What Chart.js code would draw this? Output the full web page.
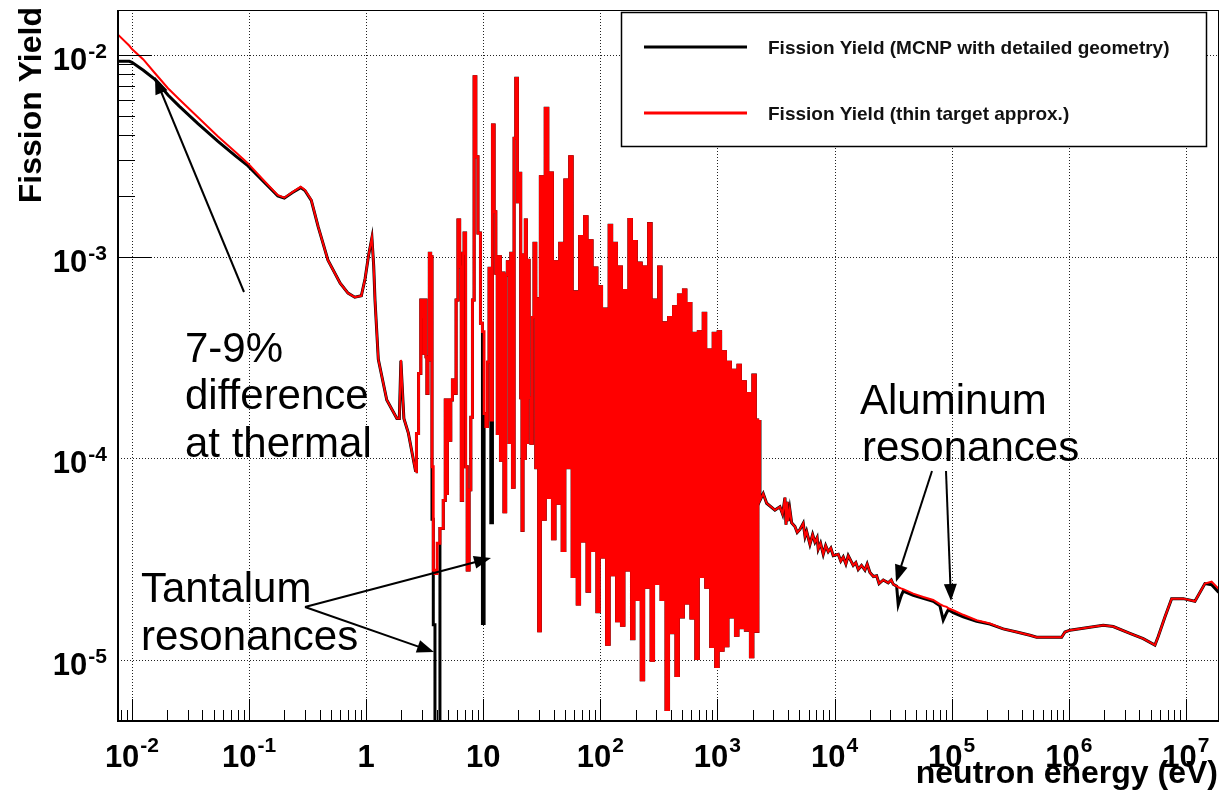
<!DOCTYPE html>
<html lang="en">
<head>
<meta charset="UTF-8" />
<title>Fission Yield vs neutron energy</title>
<script src="https://cdn.jsdelivr.net/npm/chart.js"></script>
<style>
  html, body { margin: 0; padding: 0; background: #fff; }
  #wrap { position: relative; width: 1223px; height: 795px; }
</style>
</head>
<body>
<div id="wrap"><canvas id="chart"></canvas></div>

<script>
// ---------- data (energy in eV, yield per bin) ----------

// smooth part: thermal peak up to the first resonances
const energyLow = [0.0076, 0.0095, 0.01, 0.0125, 0.0156, 0.0203, 0.0253, 0.0366, 0.0543, 0.0765,
  0.098, 0.14, 0.176, 0.2, 0.235, 0.276, 0.30, 0.34, 0.389, 0.472,
  0.60, 0.70, 0.80, 0.91, 0.98, 1.05, 1.12, 1.16, 1.19, 1.27,
  1.50, 1.83, 1.92, 1.98, 2.10, 2.29, 2.52, 2.65];
const thinLow = [1.26e-2, 1.11e-2, 1.07e-2, 9.5e-3, 8.16e-3, 6.84e-3, 6.03e-3, 4.91e-3, 3.94e-3, 3.30e-3,
  2.90e-3, 2.32e-3, 2.02e-3, 1.96e-3, 2.09e-3, 2.22e-3, 2.14e-3, 1.91e-3, 1.41e-3, 9.6e-4,
  7.4e-4, 6.6e-4, 6.3e-4, 6.4e-4, 7.8e-4, 1.02e-3, 1.25e-3, 9.0e-4, 6.1e-4, 3.1e-4,
  1.95e-4, 1.58e-4, 1.58e-4, 3.08e-4, 1.58e-4, 1.34e-4, 1.0e-4, 8.6e-5];
const mcnpLow = [9.3e-3, 9.3e-3, 9.2e-3, 8.4e-3, 7.6e-3, 6.33e-3, 5.58e-3, 4.57e-3, 3.73e-3, 3.16e-3,
  2.82e-3, 2.29e-3, 2.0e-3, 1.95e-3, 2.08e-3, 2.2e-3, 2.13e-3, 1.9e-3, 1.41e-3, 9.6e-4,
  7.4e-4, 6.6e-4, 6.3e-4, 6.4e-4, 7.8e-4, 1.02e-3, 1.24e-3, 9.0e-4, 6.1e-4, 3.1e-4,
  1.95e-4, 1.58e-4, 1.58e-4, 3.05e-4, 1.58e-4, 1.34e-4, 1.0e-4, 8.6e-5];

// resolved resonance region (histogram bins)
const energyRes = [2.65, 2.73, 2.88, 2.98, 3.07, 3.13, 3.20, 3.29, 3.32, 3.42,
  3.51, 3.60, 3.70, 3.79, 3.95, 4.13, 4.41, 4.71, 4.77, 4.87,
  5.02, 5.19, 5.37, 5.54, 5.73, 6.00, 6.17, 6.41, 6.58, 6.75,
  6.98, 7.16, 7.44, 7.70, 7.96, 8.22, 8.50, 8.78, 9.25, 9.69,
  10.0, 10.34, 10.69, 11.03, 11.41, 11.80, 12.17, 12.59, 13.01, 13.35,
  13.70, 14.36, 14.73, 15.32, 15.78, 16.35, 16.90, 17.48, 18.04, 18.65,
  19.28, 19.90, 20.58, 21.2, 21.7, 22.0, 22.6, 23.15, 23.6, 24.2,
  25.1, 25.9, 26.7, 27.6, 28.6, 29.5,
  30, 31.5, 33, 34.7, 36.5, 38, 40, 42, 44, 46,
  48.5, 51, 53.5, 56, 59, 62, 65, 68, 71.5, 75,
  79, 83, 87, 91, 96, 100, 105, 110, 116, 122,
  128, 134, 141, 148, 155, 163, 171, 180, 189, 198,
  208, 218, 229, 240, 252, 265, 278, 292, 307, 322,
  338, 355, 373, 392, 411, 432, 453, 476, 500, 525,
  551, 579, 608, 638, 670, 703, 738, 775, 814, 855,
  898, 943, 990, 1040, 1090, 1145, 1200, 1260, 1325, 1390,
  1460, 1535, 1610, 1690, 1775, 1865, 1960, 2055, 2160, 2270];
const thinRes = [8.6e-5, 1.33e-4, 2.64e-4, 6.1e-4, 5.04e-4, 3.32e-4, 6.1e-4, 3.19e-4, 2.1e-4, 3.08e-4,
  1.04e-3, 1.0e-3, 9.1e-5, 2.8e-5, 2.69e-5, 3.8e-5, 4.5e-5, 6.2e-5, 1.95e-4, 6.7e-5,
  1.95e-4, 1.23e-4, 1.95e-4, 2.45e-4, 2.1e-4, 6.1e-4, 1.52e-3, 8.9e-4, 6.2e-5, 1.04e-3,
  1.31e-3, 9.1e-5, 2.8e-5, 7.0e-5, 1.6e-4, 6.1e-4, 7.8e-3, 3.13e-3, 1.31e-3, 4.68e-4,
  4.25e-4, 1.67e-4, 1.44e-4, 3.0e-4, 8.76e-4, 1.55e-4, 4.5e-3, 1.67e-3, 8.27e-4, 1.33e-4,
  1.0e-3, 9.8e-5, 8.3e-4, 5.44e-5, 8.1e-4, 9.45e-4, 1.2e-4, 1.04e-3, 7.2e-5, 3.86e-3,
  7.66e-3, 1.87e-3, 2.59e-3, 2.0e-4, 4.4e-5, 1.02e-3, 1.0e-4, 1.52e-3, 1.2e-4, 9.6e-4,
  2.0e-4, 1.19e-4, 5.0e-4, 1.165e-3, 9.0e-5, 6.2e-4,
  1.4e-5, 2.49e-3, 5.0e-5, 5.44e-3, 6.4e-5, 2.6e-3, 4.0e-5, 9.45e-4, 6.0e-5, 1.165e-3,
  3.5e-5, 2.4e-3, 9.0e-5, 3.13e-3, 2.6e-5, 6.7e-4, 1.9e-5, 1.26e-3, 3.9e-5, 1.58e-3,
  2.2e-5, 1.2e-3, 3.5e-5, 8.8e-4, 1.74e-5, 7.1e-4, 3.25e-5, 5.5e-4, 1.2e-5, 1.43e-3,
  2.65e-5, 1.165e-3, 1.57e-5, 8.9e-4, 1.49e-5, 6.8e-4, 2.8e-5, 1.53e-3, 1.28e-5, 1.19e-3,
  2.0e-5, 9.3e-4, 8.0e-6, 8.9e-4, 2.3e-5, 1.46e-3, 1.0e-5, 6.1e-4, 2.4e-5, 8.9e-4,
  2.0e-5, 4.7e-4, 5.7e-6, 5.0e-4, 1.37e-5, 5.65e-4, 8.4e-6, 6.46e-4, 1.64e-5, 6.84e-4,
  1.92e-5, 5.87e-4, 1.62e-5, 4.17e-4, 1.02e-5, 4.25e-4, 2.6e-5, 5.24e-4, 2.3e-5, 3.45e-4,
  1.17e-5, 4.17e-4, 9.3e-6, 4.25e-4, 1.12e-5, 3.38e-4, 1.18e-5, 3.0e-4, 1.64e-5, 2.74e-4,
  1.33e-5, 2.9e-4, 1.45e-5, 2.4e-4, 1.41e-5, 2.1e-4, 1.04e-5, 2.59e-4, 1.39e-5, 1.55e-4];
// MCNP curve sits under the thin-target one here, except at the tantalum dips
const mcnpResDips = [[3.70, 5.0e-5], [3.79, 1.5e-5], [3.95, 1e-6], [4.13, 1e-6],
  [10.0, 1.52e-5], [11.80, 4.8e-5]];

// unresolved / fast region
const energyHigh = [2270, 2307, 2461, 2632, 3098, 3418, 3600, 3771, 3850, 3950,
  4023, 4150, 4302, 4590, 4800, 5064, 5403, 5600, 5777, 6165,
  6500, 6802, 7100, 7258, 7600, 8008, 8400, 8835, 9300, 9748,
  10760, 11300, 11870, 12500, 13090, 14440, 15200, 15940, 17000, 18180,
  19000, 20060, 21500, 22880, 24000, 26060, 28740, 30500, 31720, 33910,
  34990, 37000, 38610, 47000, 57210, 69650, 79450, 84770, 90640, 93540,
  103200, 125600, 163500, 212400, 275800, 359100, 466500, 531800, 869700, 928100,
  1024000, 1330000, 1970000, 2399000, 3331000, 4326000, 5447000, 5811000, 6630000, 7563000,
  9502000, 11960000, 14560000, 16610000, 18910000, 19550000];
const thinHigh = [1.55e-4, 6.2e-5, 6.7e-5, 6.0e-5, 5.55e-5, 5.76e-5, 5.3e-5, 6.4e-5, 4.7e-5, 6.1e-5,
  4.9e-5, 5.6e-5, 4.8e-5, 4.6e-5, 4.3e-5, 4.45e-5, 4.77e-5, 4.1e-5, 4.35e-5, 3.75e-5,
  4.2e-5, 3.85e-5, 4.05e-5, 3.55e-5, 3.8e-5, 3.35e-5, 3.7e-5, 3.45e-5, 3.6e-5, 3.3e-5,
  3.35e-5, 3.1e-5, 3.25e-5, 3.0e-5, 3.3e-5, 2.95e-5, 3.05e-5, 2.82e-5, 2.95e-5, 2.8e-5,
  3.0e-5, 2.72e-5, 2.6e-5, 2.62e-5, 2.4e-5, 2.5e-5, 2.42e-5, 2.5e-5, 2.38e-5, 2.33e-5,
  2.3e-5, 2.27e-5, 2.25e-5, 2.14e-5, 2.06e-5, 1.99e-5, 1.9e-5, 1.86e-5, 1.84e-5, 1.81e-5,
  1.77e-5, 1.68e-5, 1.58e-5, 1.52e-5, 1.43e-5, 1.38e-5, 1.33e-5, 1.3e-5, 1.3e-5, 1.38e-5,
  1.41e-5, 1.44e-5, 1.49e-5, 1.47e-5, 1.36e-5, 1.28e-5, 1.19e-5, 1.31e-5, 1.64e-5, 2.02e-5,
  2.02e-5, 1.96e-5, 2.4e-5, 2.45e-5, 2.27e-5, 2.25e-5];
// aluminium dips and the small offset at the top end
const mcnpHighDips = [[34990, 1.88e-5], [37000, 2.08e-5], [38610, 2.2e-5], [47000, 2.1e-5],
  [57210, 2.03e-5], [69650, 1.96e-5], [79450, 1.86e-5], [84770, 1.58e-5], [90640, 1.72e-5],
  [93540, 1.78e-5], [103200, 1.72e-5], [125600, 1.64e-5], [163500, 1.56e-5], [212400, 1.51e-5],
  [16610000, 2.37e-5], [18910000, 2.18e-5], [19550000, 2.15e-5]];

// axes
const xRange = [7.6e-3, 1.92e7];
const yRange = [5.0e-6, 1.67e-2];
const xTickValues = [1e-2, 1e-1, 1, 10, 1e2, 1e3, 1e4, 1e5, 1e6, 1e7];
const xTickLabels = [['10', '-2'], ['10', '-1'], ['1', ''], ['10', ''], ['10', '2'],
  ['10', '3'], ['10', '4'], ['10', '5'], ['10', '6'], ['10', '7']];
const yTickValues = [1e-5, 1e-4, 1e-3, 1e-2];
const yTickLabels = [['10', '-5'], ['10', '-4'], ['10', '-3'], ['10', '-2']];
const seriesNames = ['Fission Yield (MCNP with detailed geometry)', 'Fission Yield (thin target approx.)'];

// ---------- build ----------
function withDips(xs, ys, dips) {
  const m = new Map(dips);
  return ys.map((v, i) => (m.has(xs[i]) ? m.get(xs[i]) : v));
}
function pts(xs, ys) { return xs.map((x, i) => ({ x: x, y: ys[i] })); }

const mcnpRes = withDips(energyRes, thinRes, mcnpResDips);
const mcnpHigh = withDips(energyHigh, thinHigh, mcnpHighDips);

const RED = '#ff0000';
const BLACK = '#000000';
const FONT = '"Liberation Sans", Arial, Helvetica, sans-serif';

function line(ctx, x0, y0, x1, y1) {
  ctx.beginPath(); ctx.moveTo(x0, y0); ctx.lineTo(x1, y1); ctx.stroke();
}

function arrow(ctx, x0, y0, x1, y1) {
  const head = 17, half = 6.5;
  const a = Math.atan2(y1 - y0, x1 - x0);
  const c = Math.cos(a), s = Math.sin(a);
  line(ctx, x0, y0, x1 - c * head * 0.7, y1 - s * head * 0.7);
  ctx.beginPath();
  ctx.moveTo(x1, y1);
  ctx.lineTo(x1 - c * head + s * half, y1 - s * head - c * half);
  ctx.lineTo(x1 - c * head - s * half, y1 - s * head + c * half);
  ctx.closePath();
  ctx.fill();
}

// ROOT style frame: dotted decade grid, inward ticks, bold 10^n labels
const rootFrame = {
  id: 'rootFrame',
  beforeDatasetsDraw(chart) {
    const { ctx, chartArea: a, scales: { x, y } } = chart;
    ctx.save();
    ctx.strokeStyle = '#222';
    ctx.lineWidth = 1;
    ctx.setLineDash([1, 2]);
    xTickValues.forEach(v => {
      const px = Math.round(x.getPixelForValue(v)) + 0.5;
      line(ctx, px, a.top, px, a.bottom);
    });
    yTickValues.forEach(v => {
      const py = Math.round(y.getPixelForValue(v)) + 0.5;
      line(ctx, a.left, py, a.right, py);
    });
    ctx.restore();
  },
  afterDatasetsDraw(chart) {
    const { ctx, chartArea: a, scales: { x, y } } = chart;
    ctx.save();
    ctx.strokeStyle = BLACK;
    ctx.lineWidth = 1;
    for (let k = -3; k <= 7; k++) {
      for (let m = 1; m <= 9; m++) {
        const v = m * Math.pow(10, k);
        if (v >= xRange[0] && v <= xRange[1]) {
          const px = Math.round(x.getPixelForValue(v)) + 0.5;
          line(ctx, px, a.bottom, px, a.bottom - (m === 1 ? 22 : 11));
        }
        if (v >= yRange[0] && v <= yRange[1]) {
          const py = Math.round(y.getPixelForValue(v)) + 0.5;
          line(ctx, a.left, py, a.left + (m === 1 ? 34 : 17), py);
        }
      }
    }
    ctx.strokeRect(a.left + 0.5, a.top + 0.5, a.right - a.left - 1, a.bottom - a.top - 1);
    ctx.lineWidth = 2;
    line(ctx, a.left, a.top, a.left, a.bottom + 1);
    line(ctx, a.left - 1, a.bottom, a.right, a.bottom);
    ctx.restore();
  },
  afterDraw(chart) {
    const { ctx, scales: { x, y } } = chart;
    const baseFont = 'bold 31px ' + FONT;
    const expFont = 'bold 21px ' + FONT;
    ctx.save();
    ctx.fillStyle = BLACK;
    ctx.textBaseline = 'alphabetic';

    // x tick labels
    xTickValues.forEach((v, i) => {
      const [b, e] = xTickLabels[i];
      ctx.font = baseFont; const wb = ctx.measureText(b).width;
      ctx.font = expFont; const we = e ? ctx.measureText(e).width + 1 : 0;
      const x0 = x.getPixelForValue(v) - (wb + we) / 2;
      ctx.textAlign = 'left';
      ctx.font = baseFont; ctx.fillText(b, x0, 767);
      if (e) { ctx.font = expFont; ctx.fillText(e, x0 + wb + 1, 752); }
    });

    // y tick labels
    yTickValues.forEach((v, i) => {
      const [b, e] = yTickLabels[i];
      const gy = y.getPixelForValue(v);
      ctx.textAlign = 'right';
      ctx.font = expFont; const we = ctx.measureText(e).width + 1;
      ctx.fillText(e, 107, gy + 3);
      ctx.font = baseFont; ctx.fillText(b, 107 - we, gy + 15);
    });

    // axis titles
    ctx.font = 'bold 32px ' + FONT;
    ctx.textAlign = 'right';
    ctx.fillText('neutron energy (eV)', 1218, 783);
    ctx.save();
    ctx.translate(41, 7);
    ctx.rotate(-Math.PI / 2);
    ctx.fillText('Fission Yield', 0, 0);
    ctx.restore();

    // legend box
    ctx.fillStyle = '#fff';
    ctx.fillRect(621, 12, 586, 135);
    ctx.strokeStyle = BLACK;
    ctx.lineWidth = 1.5;
    ctx.strokeRect(621.5, 12.5, 585, 134);
    ctx.lineWidth = 3;
    ctx.strokeStyle = BLACK; line(ctx, 644, 47, 747, 47);
    ctx.strokeStyle = RED; line(ctx, 644, 113, 747, 113);
    ctx.fillStyle = '#111';
    ctx.font = 'bold 19px ' + FONT;
    ctx.textAlign = 'left';
    ctx.fillText(seriesNames[0], 768, 54);
    ctx.fillText(seriesNames[1], 768, 120);

    // annotations
    ctx.fillStyle = BLACK;
    ctx.strokeStyle = BLACK;
    ctx.font = '42px ' + FONT;
    ctx.fillText('7-9%', 185, 362);
    ctx.fillText('difference', 185, 409);
    ctx.fillText('at thermal', 185, 457);
    ctx.fillText('Tantalum', 141, 602);
    ctx.fillText('resonances', 141, 650);
    ctx.fillText('Aluminum', 860, 414);
    ctx.fillText('resonances', 862, 461);
    ctx.lineWidth = 2;
    arrow(ctx, 244, 292, 155, 77);
    arrow(ctx, 305, 607, 491, 558);
    arrow(ctx, 305, 607, 434, 652);
    arrow(ctx, 932, 471, 896, 582);
    arrow(ctx, 946, 471, 951, 601);
    ctx.restore();
  }
};

const common = { pointRadius: 0, fill: false, tension: 0, spanGaps: false };

new Chart(document.getElementById('chart'), {
  type: 'line',
  data: {
    datasets: [
      Object.assign({ label: seriesNames[1], data: pts(energyLow, thinLow), borderColor: RED, borderWidth: 2, order: 0 }, common),
      Object.assign({ label: seriesNames[1], data: pts(energyRes, thinRes), borderColor: RED, borderWidth: 2.8, stepped: 'middle', order: 0 }, common),
      Object.assign({ label: seriesNames[1], data: pts(energyHigh, thinHigh), borderColor: RED, borderWidth: 2, order: 0 }, common),
      Object.assign({ label: seriesNames[0], data: pts(energyLow, mcnpLow), borderColor: BLACK, borderWidth: 3, order: 1 }, common),
      Object.assign({ label: seriesNames[0], data: pts(energyRes, mcnpRes), borderColor: BLACK, borderWidth: 3, stepped: 'middle', order: 1 }, common),
      Object.assign({ label: seriesNames[0], data: pts(energyHigh, mcnpHigh), borderColor: BLACK, borderWidth: 3, order: 1 }, common)
    ]
  },
  options: {
    animation: false,
    responsive: true,
    maintainAspectRatio: false,
    devicePixelRatio: 1,
    events: [],
    layout: { padding: { left: 118, top: 10, right: 4, bottom: 74 } },
    plugins: { legend: { display: false }, tooltip: { enabled: false } },
    scales: {
      x: { type: 'logarithmic', min: xRange[0], max: xRange[1], display: false },
      y: { type: 'logarithmic', min: yRange[0], max: yRange[1], display: false }
    }
  },
  plugins: [rootFrame]
});
</script>
</body>
</html>
